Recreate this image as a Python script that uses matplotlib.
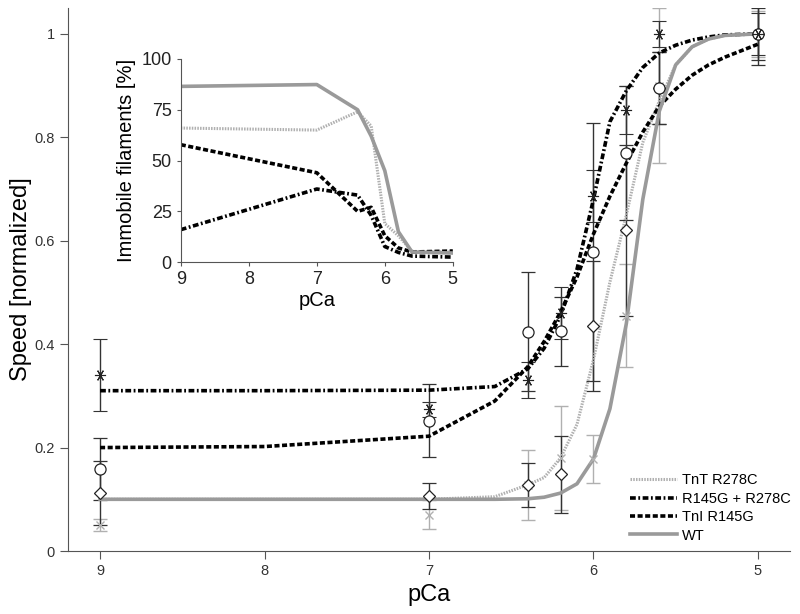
import numpy as np
import matplotlib
matplotlib.use("Agg")
import matplotlib.pyplot as plt

plt.rcParams['font.family'] = ['Liberation Sans', 'DejaVu Sans']

# fitted curves
curve_pCa = [9, 8, 7, 6.6, 6.4, 6.3, 6.2, 6.1, 6.0, 5.9, 5.8, 5.7, 5.6, 5.5, 5.4, 5.3, 5.2, 5.0]
curve_wt = [0.1, 0.1, 0.1, 0.1, 0.101, 0.104, 0.112, 0.13, 0.178, 0.275, 0.44, 0.68, 0.85, 0.94, 0.975, 0.99, 0.997, 1.0]
curve_tnt = [0.1, 0.1, 0.1, 0.105, 0.128, 0.142, 0.18, 0.245, 0.37, 0.52, 0.65, 0.79, 0.87, 0.94, 0.975, 0.99, 0.997, 1.0]
curve_dbl = [0.31, 0.31, 0.311, 0.318, 0.352, 0.392, 0.455, 0.545, 0.68, 0.83, 0.89, 0.935, 0.963, 0.978, 0.988, 0.994, 0.998, 1.0]
curve_tni = [0.2, 0.202, 0.222, 0.29, 0.356, 0.405, 0.462, 0.53, 0.613, 0.686, 0.75, 0.81, 0.86, 0.893, 0.92, 0.94, 0.955, 0.98]

# measured speeds
pts_pCa = [9, 7, 6.4, 6.2, 6.0, 5.8, 5.6, 5.0]
wt_mean = [0.05, 0.07, 0.127, 0.18, 0.178, 0.455, 0.9, 1.0]
wt_err = [0.012, 0.028, 0.068, 0.10, 0.047, 0.10, 0.15, 0.045]
tnt_mean = [0.112, 0.107, 0.128, 0.148, 0.435, 0.62, 0.895, 1.0]
tnt_err = [0.062, 0.025, 0.042, 0.075, 0.125, 0.165, 0.07, 0.05]
tni_mean = [0.158, 0.252, 0.424, 0.425, 0.578, 0.77, 0.895, 1.0]
tni_err = [0.06, 0.07, 0.115, 0.067, 0.25, 0.13, 0.07, 0.06]
dbl_mean = [0.34, 0.274, 0.331, 0.46, 0.687, 0.853, 1.0, 1.0]
dbl_err = [0.07, 0.015, 0.035, 0.05, 0.05, 0.047, 0.025, 0.04]

# inset: immobile filaments
ins_pCa = [9, 7, 6.4, 6.2, 6.0, 5.8, 5.6, 5.0]
ins_wt = [86.5, 87.4, 75, 62, 45, 15, 5, 4.5]
ins_tnt = [66, 65, 74, 67, 19, 13, 5.3, 5]
ins_tni = [57.8, 44, 25, 27, 13, 7, 5, 5.5]
ins_dbl = [16, 36, 33, 23, 7.7, 4.8, 3, 2.5]

gray = '#9a9a9a'
lgray = '#b0b0b0'
dark = '#222222'
axc = '#555555'

fig = plt.figure(figsize=(8, 6.14), dpi=100)
ax = fig.add_axes([0.085, 0.1026, 0.9025, 0.8844])

ekw = dict(linestyle='none', capsize=5, elinewidth=1, capthick=1)
ax.errorbar(pts_pCa, wt_mean, yerr=wt_err, marker='x', ms=6, mfc='none', mec=lgray, ecolor=lgray, **ekw)
ax.errorbar(pts_pCa, tnt_mean, yerr=tnt_err, marker='D', ms=6, mfc='white', mec=dark, ecolor='#333333', mew=0.9, **ekw)
ax.errorbar(pts_pCa, tni_mean, yerr=tni_err, marker='o', ms=8, mfc='white', mec=dark, ecolor='#333333', mew=0.9, **ekw)
ax.errorbar(pts_pCa, dbl_mean, yerr=dbl_err, marker=(6, 2, 90), ms=8, mec=dark, ecolor='#333333', mew=0.8, **ekw)

ax.plot(curve_pCa, curve_tnt, color=lgray, lw=2.2, dashes=(0.5, 0.4), label='TnT R278C')
ax.plot(curve_pCa, curve_dbl, color='black', lw=2.6, dashes=(1.6, 0.7, 0.5, 0.7), label='R145G + R278C')
ax.plot(curve_pCa, curve_tni, color='black', lw=2.6, dashes=(1.4, 0.7), label='TnI R145G')
ax.plot(curve_pCa, curve_wt, color=gray, lw=2.6, label='WT')

ax.set_xlim(9.195, 4.805)
ax.set_ylim(0, 1.05)
ax.set_xticks([9, 8, 7, 6, 5])
ax.set_yticks([0, 0.2, 0.4, 0.6, 0.8, 1])
ax.set_yticklabels(['0', '0.2', '0.4', '0.6', '0.8', '1'])
for s in ['top', 'right']:
    ax.spines[s].set_visible(False)
for s in ['left', 'bottom']:
    ax.spines[s].set_color(axc)
ax.tick_params(colors=axc, labelcolor='#333333', labelsize=10.5, length=6, direction='out')
ax.set_xlabel('pCa', fontsize=17, labelpad=4)
ax.set_ylabel('Speed [normalized]', fontsize=17, labelpad=2)

h, l = ax.get_legend_handles_labels()
fig.legend(h, l, loc='upper left', bbox_to_anchor=(0.788, 0.229), frameon=False,
           fontsize=10.5, handlelength=3.2, handletextpad=0.35, labelspacing=0.3,
           borderpad=0, borderaxespad=0)

ins = fig.add_axes([0.226, 0.573, 0.34, 0.331])
ins.plot(ins_pCa, ins_tnt, color=lgray, lw=2.2, dashes=(0.5, 0.4))
ins.plot(ins_pCa, ins_dbl, color='black', lw=2.6, dashes=(1.6, 0.7, 0.5, 0.7))
ins.plot(ins_pCa, ins_tni, color='black', lw=2.6, dashes=(1.4, 0.7))
ins.plot(ins_pCa, ins_wt, color=gray, lw=2.6)
ins.set_xlim(9, 5)
ins.set_ylim(0, 100)
ins.set_xticks([9, 8, 7, 6, 5])
ins.set_yticks([0, 25, 50, 75, 100])
ins.patch.set_alpha(0)
for s in ['top', 'right']:
    ins.spines[s].set_visible(False)
for s in ['left', 'bottom']:
    ins.spines[s].set_color(axc)
ins.tick_params(colors=axc, labelcolor='#222222', labelsize=13, length=3, direction='out')
ins.set_xlabel('pCa', fontsize=14.5, labelpad=2)
ins.set_ylabel('Immobile filaments [%]', fontsize=14.5, labelpad=4)

fig.savefig('out.png', dpi=100)
